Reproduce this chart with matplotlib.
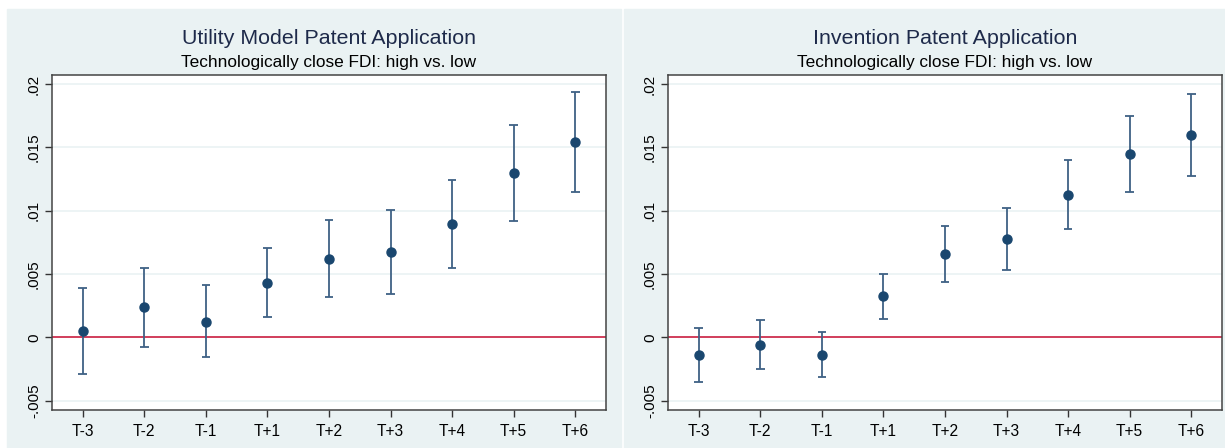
import matplotlib.pyplot as plt
import matplotlib.patches as mpatches

plt.rcParams['font.family'] = ['Liberation Sans', 'DejaVu Sans']

periods = ['T-3', 'T-2', 'T-1', 'T+1', 'T+2', 'T+3', 'T+4', 'T+5', 'T+6']

# Utility model patent application
utility_coef = [0.0005, 0.00237, 0.00124, 0.00432, 0.00621, 0.00674, 0.00895, 0.01295, 0.01542]
utility_lo = [-0.00287, -0.00076, -0.00158, 0.00163, 0.00318, 0.00345, 0.00545, 0.00918, 0.01145]
utility_hi = [0.00387, 0.0055, 0.0041, 0.00705, 0.00926, 0.01005, 0.01245, 0.01674, 0.01939]

# Invention patent application
invention_coef = [-0.00142, -0.00058, -0.00137, 0.00324, 0.00658, 0.00774, 0.01126, 0.0145, 0.01597]
invention_lo = [-0.00355, -0.00247, -0.00316, 0.00145, 0.0044, 0.00529, 0.00853, 0.01147, 0.01274]
invention_hi = [0.00071, 0.00139, 0.00042, 0.00503, 0.00876, 0.01024, 0.014, 0.0175, 0.01921]

titles = ['Utility Model Patent Application', 'Invention Patent Application']
subtitle = 'Technologically close FDI: high vs. low'
yticks = [-0.005, 0, 0.005, 0.01, 0.015, 0.02]
ytick_labels = ['-.005', '0', '.005', '.01', '.015', '.02']

bg = '#EAF2F3'
navy = '#1A476F'
bar_color = '#3F6185'

W, H = 1225, 448
fig = plt.figure(figsize=(W / 100, H / 100), dpi=100, facecolor='white')

# panel backgrounds
fig.patches.append(mpatches.Rectangle((7 / W, 0), (621 - 7) / W, (H - 9) / H,
                                      transform=fig.transFigure, color=bg, zorder=-5))
fig.patches.append(mpatches.Rectangle((624 / W, 0), (W - 624) / W, (H - 9) / H,
                                      transform=fig.transFigure, color=bg, zorder=-5))

axes_px = [(52, 606), (668, 1222)]
top_px, bot_px = 75, 410
data = [(utility_coef, utility_lo, utility_hi), (invention_coef, invention_lo, invention_hi)]

for (x0, x1), title, (coef, lo, hi) in zip(axes_px, titles, data):
    ax = fig.add_axes([x0 / W, 1 - bot_px / H, (x1 - x0) / W, (bot_px - top_px) / H])
    ax.set_zorder(2)
    ax.set_facecolor('white')
    x = list(range(1, len(periods) + 1))
    ax.axhline(0, color='#D0304F', linewidth=1.3, zorder=2)
    ax.vlines(x, lo, hi, color=bar_color, linewidth=1.3, zorder=3)
    ax.hlines(lo, [v - 0.07 for v in x], [v + 0.07 for v in x], color=bar_color, linewidth=1.3, zorder=3)
    ax.hlines(hi, [v - 0.07 for v in x], [v + 0.07 for v in x], color=bar_color, linewidth=1.3, zorder=3)
    ax.plot(x, coef, 'o', color=navy, markersize=6.5, zorder=4)

    ax.set_xlim(0.5, 9.5)
    ax.set_ylim(-0.00574, 0.02072)
    ax.set_xticks(x)
    ax.set_xticklabels(periods, fontsize=11.2)
    ax.set_yticks(yticks)
    ax.set_yticklabels(ytick_labels, fontsize=11, rotation=90, va='center')
    ax.yaxis.grid(True, color='#EAF2F3', linewidth=1.2)
    ax.set_axisbelow(True)
    ax.tick_params(direction='out', length=5, width=1, color='#333333')
    ax.tick_params(axis='x', pad=5)
    ax.tick_params(axis='y', pad=3)
    for s in ax.spines.values():
        s.set_color('#444444')
        s.set_linewidth(1.1)

    xc = (x0 + x1) / 2 / W
    fig.text(xc, 1 - 38 / H, title, ha='center', va='center', fontsize=15.4, color='#1E2A4A')
    fig.text(xc, 1 - 62 / H, subtitle, ha='center', va='center', fontsize=12.4, color='black')

fig.savefig('out.png', dpi=100, facecolor='white')
